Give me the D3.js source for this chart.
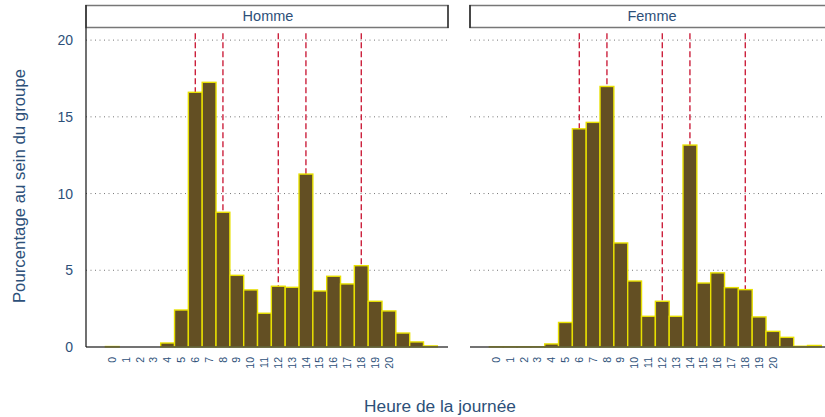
<!DOCTYPE html>
<html><head><meta charset="utf-8">
<script src="https://cdn.jsdelivr.net/npm/d3@7"></script>
<style>body{margin:0;background:#fff;}svg{display:block;font-family:"Liberation Sans",Arial,sans-serif;}</style>
</head><body><svg id="c" width="825" height="417"></svg>
<script>
const hours = d3.range(0, 24);
const tickLabels = d3.range(0, 21);
const groups = ["Homme", "Femme"];
const homme = [0.03,0,0,0,0.26,2.41,16.6,17.25,8.78,4.67,3.72,2.2,3.96,3.89,11.27,3.65,4.61,4.11,5.3,2.98,2.35,0.91,0.33,0.07];
const femme = [0.02,0.02,0.02,0.02,0.2,1.6,14.22,14.64,16.98,6.78,4.3,2.0,2.98,2.0,13.16,4.17,4.83,3.87,3.74,1.96,1.02,0.63,0.05,0.1];
const refHours = [6, 8, 12, 14, 18];
const yTicks = [0, 5, 10, 15, 20];
const series = [homme, femme];

const textCol = "#2d5079";
const svg = d3.select("#c");
const panelW = 362, plotTop = 28, plotBottom = 347;
const panelX = [86, 470];
const y = d3.scaleLinear().domain([0, 20.79]).range([plotBottom, plotTop]);

groups.forEach((g, gi) => {
  const x0 = panelX[gi];
  const x = d3.scaleLinear().domain([-1.9, 24.27]).range([x0, x0 + panelW]);
  const p = svg.append("g");
  // strip
  p.append("rect").attr("x", x0).attr("y", 5.5).attr("width", panelW).attr("height", 22)
    .attr("fill", "#fff").attr("stroke", "#777").attr("stroke-width", 1.5);
  p.append("line").attr("x1", x0).attr("x2", x0).attr("y1", 5).attr("y2", 28).attr("stroke", "#111").attr("stroke-width", 1.2);
  p.append("line").attr("x1", x0 + panelW).attr("x2", x0 + panelW).attr("y1", 5).attr("y2", 28).attr("stroke", "#222").attr("stroke-width", 1.2);
  p.append("text").attr("x", x0 + panelW / 2 + 1).attr("y", 20.7).attr("text-anchor", "middle")
    .attr("font-size", 14.5).attr("fill", textCol).text(g);
  // grid
  p.selectAll(".grid").data(yTicks.filter(t => t > 0)).join("line")
    .attr("x1", x0).attr("x2", x0 + panelW).attr("y1", d => y(d)).attr("y2", d => y(d))
    .attr("stroke", "#777").attr("stroke-width", 1).attr("stroke-dasharray", "1,3.5");
  // reference lines
  p.selectAll(".ref").data(refHours).join("line")
    .attr("x1", d => x(d)).attr("x2", d => x(d)).attr("y1", y(20.45)).attr("y2", plotBottom)
    .attr("stroke", "#c8102e").attr("stroke-width", 1.3).attr("stroke-dasharray", "6,3");
  // bars
  p.selectAll(".bar").data(hours).join("rect")
    .attr("x", d => x(d - 0.5)).attr("width", d => x(d + 0.5) - x(d - 0.5))
    .attr("y", d => y(series[gi][d])).attr("height", d => plotBottom - y(series[gi][d]))
    .attr("fill", "#634f23").attr("stroke", "#e8e000").attr("stroke-width", 1.4);
  // baseline
  p.append("line").attr("x1", x0).attr("x2", x0 + panelW).attr("y1", plotBottom).attr("y2", plotBottom)
    .attr("stroke", "#444").attr("stroke-width", 1.5);
  // x tick labels
  p.selectAll(".xl").data(tickLabels).join("text")
    .attr("transform", d => `translate(${x(d) + 3.6},357) rotate(-90)`)
    .attr("text-anchor", "end").attr("font-size", 10.5).attr("fill", textCol).text(d => d);
  if (gi === 0) {
    p.append("line").attr("x1", x0).attr("x2", x0).attr("y1", plotTop).attr("y2", plotBottom)
      .attr("stroke", "#111").attr("stroke-width", 1.2);
    p.selectAll(".yl").data(yTicks).join("text")
      .attr("x", 73).attr("y", d => y(d) + 5).attr("text-anchor", "end")
      .attr("font-size", 14).attr("fill", textCol).text(d => d);
  }
});

svg.append("text").attr("transform", "translate(25,186) rotate(-90)").attr("text-anchor", "middle")
  .attr("font-size", 16.8).attr("fill", textCol).text("Pourcentage au sein du groupe");
svg.append("text").attr("x", 440).attr("y", 411.5).attr("text-anchor", "middle")
  .attr("font-size", 17.3).attr("fill", textCol).text("Heure de la journée");
</script></body></html>
